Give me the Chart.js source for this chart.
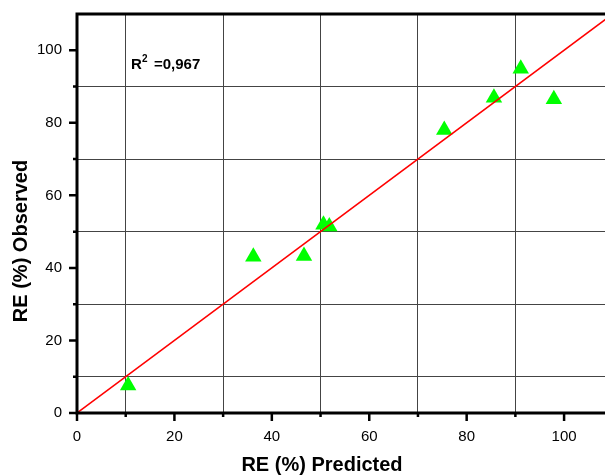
<!DOCTYPE html>
<html>
<head>
<meta charset="utf-8">
<script src="https://cdn.jsdelivr.net/npm/chart.js@4/dist/chart.umd.min.js"></script>
<style>
  body { margin: 0; background: #fff; }
  canvas { display: block; }
</style>
</head>
<body>
<canvas id="chart" width="605" height="476"></canvas>
<script>
// RE (%) predicted vs observed
const predicted = [10.5, 36.2, 46.6, 50.6, 51.8, 75.4, 85.6, 91.1, 97.9];
const observed = [7.6, 43.1, 43.3, 51.9, 51.4, 78.0, 86.9, 94.9, 86.5];
// fitted line y = x
const fitX = [0, 112];
const fitY = [0, 112];
const tickValues = [0, 10, 20, 30, 40, 50, 60, 70, 80, 90, 100];
const rSquaredText = "=0,967";

const FONT = "Arial, 'Liberation Sans', sans-serif";

const points = predicted.map((x, i) => ({ x: x, y: observed[i] }));
const fitLine = fitX.map((x, i) => ({ x: x, y: fitY[i] }));

const isMajor = (v) => v % 20 === 0;

const frame = {
    id: "frame",
    afterDraw(chart) {
        const ctx = chart.ctx;
        const a = chart.chartArea;
        const xs = chart.scales.x;
        const ys = chart.scales.y;
        ctx.save();
        ctx.strokeStyle = "#000";
        ctx.lineWidth = 3;
        ctx.beginPath();
        // left, bottom and top axis lines
        ctx.moveTo(a.left, a.top - 1.5);
        ctx.lineTo(a.left, a.bottom + 1.5);
        ctx.moveTo(a.left - 1.5, a.bottom);
        ctx.lineTo(a.right, a.bottom);
        ctx.moveTo(a.left - 1.5, a.top);
        ctx.lineTo(a.right, a.top);
        ctx.stroke();

        // tick marks
        ctx.lineWidth = 2.5;
        ctx.beginPath();
        tickValues.forEach((v) => {
            const len = isMajor(v) ? 8 : 4;
            const px = xs.getPixelForValue(v);
            ctx.moveTo(px, a.bottom);
            ctx.lineTo(px, a.bottom + len);
            const py = ys.getPixelForValue(v);
            ctx.moveTo(a.left, py);
            ctx.lineTo(a.left - len, py);
        });
        ctx.stroke();

        // axis titles
        ctx.fillStyle = "#000";
        ctx.font = "bold 20px " + FONT;
        ctx.textAlign = "center";
        ctx.textBaseline = "middle";
        ctx.fillText("RE (%) Predicted", 322, 465);
        ctx.translate(21, 241);
        ctx.rotate(-Math.PI / 2);
        ctx.fillText("RE (%) Observed", 0, 0);
        ctx.restore();

        // R^2 annotation
        ctx.save();
        ctx.fillStyle = "#000";
        ctx.textAlign = "left";
        ctx.textBaseline = "alphabetic";
        ctx.font = "bold 15px " + FONT;
        ctx.fillText("R", 131, 69);
        ctx.font = "bold 10px " + FONT;
        ctx.fillText("2", 142, 62);
        ctx.font = "bold 15px " + FONT;
        ctx.fillText(rSquaredText, 154, 69);
        ctx.restore();
    }
};

new Chart(document.getElementById("chart"), {
    type: "scatter",
    data: {
        datasets: [
            {
                label: "y = x",
                data: fitLine,
                showLine: true,
                borderColor: "#ff0000",
                borderWidth: 1.5,
                pointRadius: 0,
                order: 0,
            },
            {
                label: "RE (%)",
                data: points,
                pointStyle: "triangle",
                pointRadius: 9.5,
                pointHoverRadius: 9.5,
                backgroundColor: "#00ff00",
                borderColor: "#00ff00",
                borderWidth: 0,
                order: 1,
            },
        ],
    },
    options: {
        responsive: false,
        animation: false,
        layout: { autoPadding: false, padding: { top: 14, right: 0, left: 0, bottom: 0 } },
        plugins: {
            legend: { display: false },
            tooltip: { enabled: false },
        },
        scales: {
            x: {
                type: "linear",
                min: 0,
                max: 108.4,
                afterBuildTicks: (s) => { s.ticks = tickValues.map((v) => ({ value: v })); },
                afterFit: (s) => {
                    s.height = 63;
                    s.paddingLeft = 0;
                    s.paddingRight = 0;
                },
                border: { display: false },
                grid: {
                    drawTicks: false,
                    lineWidth: 1,
                    color: (c) => (c.tick && !isMajor(c.tick.value) ? "#444" : "rgba(0,0,0,0)"),
                },
                ticks: {
                    padding: 15,
                    color: "#000",
                    font: { family: FONT, size: 15 },
                    callback: (v) => (isMajor(v) ? v : ""),
                },
            },
            y: {
                type: "linear",
                min: 0,
                max: 110,
                afterBuildTicks: (s) => { s.ticks = tickValues.map((v) => ({ value: v })); },
                afterFit: (s) => {
                    s.width = 77;
                    s.paddingTop = 0;
                    s.paddingBottom = 0;
                },
                border: { display: false },
                grid: {
                    drawTicks: false,
                    lineWidth: 1,
                    color: (c) => (c.tick && !isMajor(c.tick.value) ? "#444" : "rgba(0,0,0,0)"),
                },
                ticks: {
                    padding: 15,
                    color: "#000",
                    font: { family: FONT, size: 15 },
                    callback: (v) => (isMajor(v) ? v : ""),
                },
            },
        },
    },
    plugins: [frame],
});
</script>
</body>
</html>
